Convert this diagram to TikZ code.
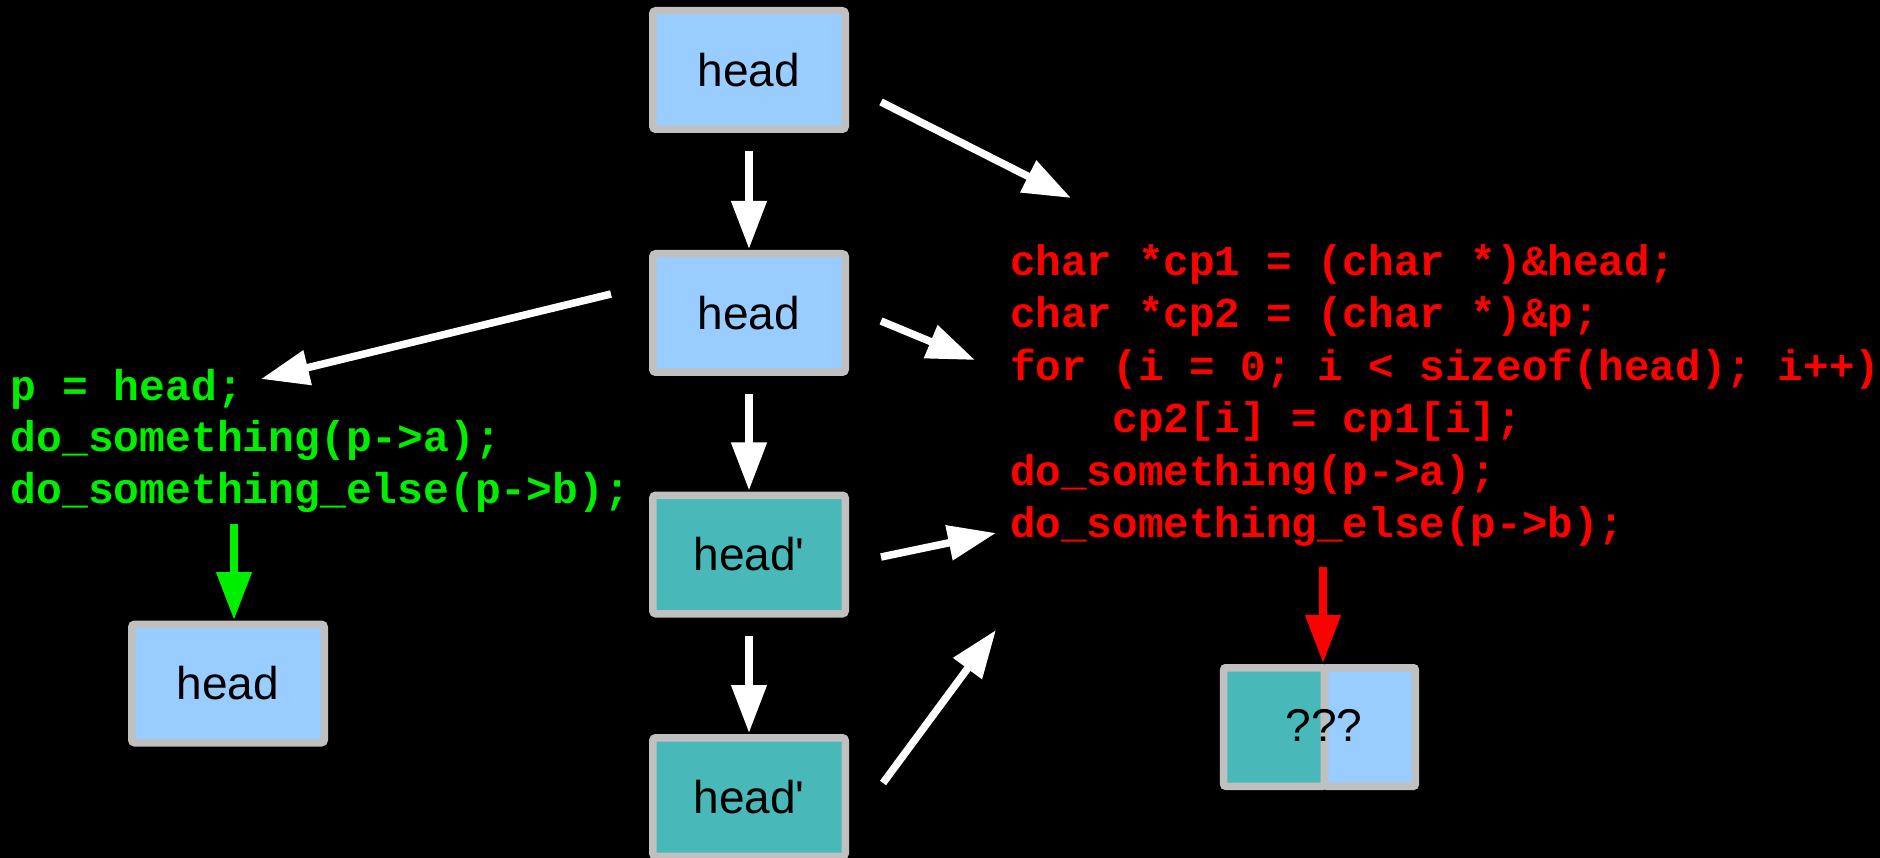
\documentclass[tikz,border=0pt]{standalone}
\usepackage{fontspec}
\setmainfont{Liberation Sans}
\newfontfamily\codefont{Liberation Mono}
\usetikzlibrary{arrows.meta}
\definecolor{boxblue}{HTML}{99CCFF}
\definecolor{boxteal}{HTML}{48B9B8}
\definecolor{boxgray}{HTML}{C0C0C0}
\definecolor{codegreen}{HTML}{00EE00}
\definecolor{codered}{HTML}{FF0000}
\begin{document}
\begin{tikzpicture}[x=1pt,y=-1pt,
  box/.style={draw=boxgray, line width=7.5pt, rounded corners=3pt, minimum width=192.5pt, minimum height=118.5pt, inner sep=0pt, font=\fontsize{46}{55}\selectfont, text=black},
  bluebox/.style={box, fill=boxblue},
  tealbox/.style={box, fill=boxteal},
  gcode/.style={anchor=base west, inner sep=0pt, text=codegreen, font=\codefont\bfseries\fontsize{43}{52}\selectfont},
  rcode/.style={anchor=base west, inner sep=0pt, text=codered, font=\codefont\bfseries\fontsize{42.65}{52}\selectfont},
  arr/.style={draw=white, line width=7.5pt, -{Triangle[width=34pt,length=48pt]}},
  garr/.style={arr, draw=codegreen},
  rarr/.style={arr, draw=codered}
]
\fill[black] (0,0) rectangle (1880,858);
\useasboundingbox (0,0) rectangle (1880,858);

% boxes
\node[bluebox] (b1) at (749,70) {head};
\node[bluebox] (b2) at (749,313) {head};
\node[tealbox] (b3) at (749,554.5) {head\textquotesingle};
\node[tealbox] (b4) at (749,797) {head\textquotesingle};
\node[bluebox] (lb) at (228,683.5) {head};
\node[tealbox, minimum width=100.75pt, rounded corners=2pt] (qa) at (1274.1,727) {};
\node[bluebox, minimum width=90.75pt, rounded corners=2pt] (qb) at (1369.9,727) {};
\node[font=\fontsize{46}{55}\selectfont, inner sep=0pt] (qt) at (1324,725) {???};

% green code
\node[gcode] (g1) at (10.5,400.5) {p = head;};
\node[gcode] (g2) at (10.5,452) {do\_something(p->a);};
\node[gcode] (g3) at (10.5,503.5) {do\_something\_else(p->b);};

% red code
\node[rcode] (r1) at (1010,275.5) {char *cp1 = (char *)\&head;};
\node[rcode] (r2) at (1010,327.9) {char *cp2 = (char *)\&p;};
\node[rcode] (r3) at (1010,380.3) {for (i = 0; i < sizeof(head); i++)};
\node[rcode] (r4) at (1010,432.7) {\hphantom{xxxx}cp2[i] = cp1[i];};
\node[rcode] (r5) at (1010,485.1) {do\_something(p->a);};
\node[rcode] (r6) at (1010,537.5) {do\_something\_else(p->b);};

% connector end points
\coordinate (a4s) at (881,102);  \coordinate (a4e) at (1071,198);
\coordinate (a5s) at (881,321);  \coordinate (a5e) at (975,360);
\coordinate (a6s) at (881,557);  \coordinate (a6e) at (996,533);
\coordinate (a7s) at (883,783);  \coordinate (a7e) at (996,630);
\coordinate (a8s) at (611,294);  \coordinate (a8e) at (261,379);
\coordinate (a9s) at (234,524);  \coordinate (a9e) at (234,620);
\coordinate (a10s) at (1323,567); \coordinate (a10e) at (1323,663);

% connectors
\draw[arr, shorten <=18pt, shorten >=1pt] (b1.south) -- (b2.north);
\draw[arr, shorten <=18pt, shorten >=1pt] (b2.south) -- (b3.north);
\draw[arr, shorten <=18pt, shorten >=1pt] (b3.south) -- (b4.north);
\draw[arr] (a4s) -- (a4e);
\draw[arr] (a5s) -- (a5e);
\draw[arr] (a6s) -- (a6e);
\draw[arr] (a7s) -- (a7e);
\draw[arr] (a8s) -- (a8e);
\draw[garr] (a9s) -- (a9e);
\draw[rarr] (a10s) -- (a10e);
\end{tikzpicture}
\end{document}
